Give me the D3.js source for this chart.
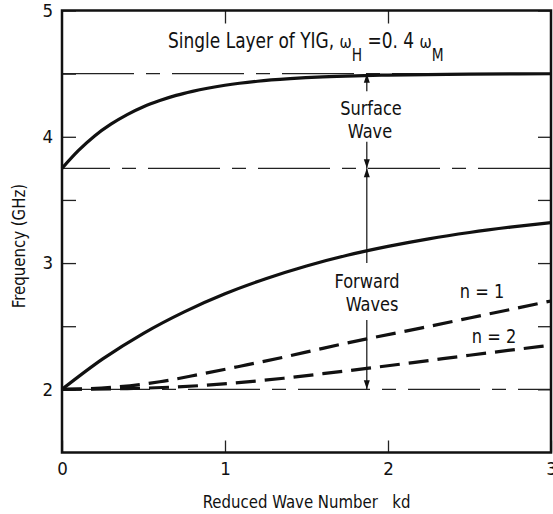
<!DOCTYPE html>
<html>
<head>
<meta charset="utf-8">
<script src="https://cdn.jsdelivr.net/npm/d3@7"></script>
<style>
  body { margin: 0; background: #fff; }
  text { font-family: "Liberation Sans Narrow", "DejaVu Sans Condensed", "Arial Narrow", sans-serif; fill: #111; }
</style>
</head>
<body>
<svg id="chart"></svg>
<script>
// surface wave branch
const kdSurface = [0, 0.1, 0.2, 0.3, 0.4, 0.5, 0.6, 0.7, 0.8, 1.0, 1.2, 1.4, 1.6, 1.8, 2.0, 2.5, 3.0]
const freqSurface = [3.75, 3.89, 4.007, 4.1, 4.176, 4.238, 4.287, 4.328, 4.36, 4.408, 4.44, 4.46, 4.474, 4.483, 4.489, 4.496, 4.499]
// forward waves: n = 0 solid, n = 1 and n = 2 dashed
const kdN0 = [0, 0.25, 0.5, 0.75, 1.0, 1.25, 1.5, 1.75, 2.0, 2.25, 2.5, 2.75, 3.0]
const freqN0 = [2.0, 2.241, 2.444, 2.614, 2.757, 2.876, 2.977, 3.062, 3.132, 3.192, 3.242, 3.284, 3.32]
const kdN1 = [0, 0.3, 0.6, 0.85, 1.1, 1.36, 1.6, 1.87, 2.2, 2.5, 3.0]
const freqN1 = [2.0, 2.015, 2.06, 2.12, 2.185, 2.255, 2.325, 2.4, 2.485, 2.565, 2.7]
const kdN2 = [0, 0.4, 0.85, 1.1, 1.36, 1.6, 1.87, 2.2, 2.5, 3.0]
const freqN2 = [2.0, 2.006, 2.03, 2.055, 2.088, 2.124, 2.166, 2.22, 2.27, 2.35]
// band limits
const levels = [4.5, 3.75, 2]
const xTicks = [0, 1, 2, 3]
const yTicks = [2, 2.5, 3, 3.5, 4, 4.5, 5]
const yLabels = [2, 3, 4, 5]
// band arrows at kd = 1.87 : [tip, tail]
const arrowKd = 1.87
const arrows = [[4.5, 4.36], [3.75, 3.96], [3.75, 3.0], [2.0, 2.55]]

const width = 553, height = 514
const svg = d3.select("#chart").attr("width", width).attr("height", height)

const x = d3.scaleLinear().domain([0, 3]).range([62, 551])
const y = d3.scaleLinear().domain([1.5, 5]).range([452.5, 10.5])

const fontSize = 18.5
const squeeze = 0.9   // narrow lettering of the original

// thin long-short dashed limit lines
const dashOffsets = [0, 24, 94]
svg.selectAll(".level").data(levels).join("line")
  .attr("x1", x(0)).attr("x2", x(3))
  .attr("y1", d => y(d)).attr("y2", d => y(d))
  .attr("stroke", "#222").attr("stroke-width", 1.1)
  .attr("stroke-dasharray", "72,12,14,12")
  .attr("stroke-dashoffset", (d, i) => dashOffsets[i])

// axes (inside ticks)
const gx = svg.append("g").attr("transform", `translate(0,${y(1.5)})`)
  .call(d3.axisBottom(x).tickValues(xTicks).tickSizeInner(-12).tickSizeOuter(0).tickPadding(9).tickFormat(d3.format("d")))
gx.select(".domain").remove()
gx.selectAll("text").attr("font-size", fontSize).style("font-family", null)

const gxTop = svg.append("g").attr("transform", `translate(0,${y(5)})`)
  .call(d3.axisTop(x).tickValues([1, 2]).tickSizeInner(-13).tickSizeOuter(0).tickFormat(""))
gxTop.select(".domain").remove()

const gy = svg.append("g").attr("transform", `translate(${x(0)},0)`)
  .call(d3.axisLeft(y).tickValues(yTicks).tickSizeInner(-14).tickSizeOuter(0).tickPadding(9)
    .tickFormat(d => yLabels.includes(d) ? d3.format("d")(d) : ""))
gy.select(".domain").remove()
gy.selectAll("text").attr("font-size", fontSize).style("font-family", null)

const gyRight = svg.append("g").attr("transform", `translate(${x(3)},0)`)
  .call(d3.axisRight(y).tickValues(yTicks).tickSizeInner(-13).tickSizeOuter(0).tickFormat(""))
gyRight.select(".domain").remove()

svg.selectAll(".tick line").attr("stroke", "#222").attr("stroke-width", 1.3)

// frame
svg.append("rect")
  .attr("x", x(0)).attr("y", y(5))
  .attr("width", x(3) - x(0)).attr("height", y(1.5) - y(5))
  .attr("fill", "none").attr("stroke", "#111").attr("stroke-width", 2.5)

// curves
const line = d3.line().x(d => x(d[0])).y(d => y(d[1])).curve(d3.curveMonotoneX)
const curves = [
  {data: d3.zip(kdSurface, freqSurface), dash: null},
  {data: d3.zip(kdN0, freqN0), dash: null},
  {data: d3.zip(kdN1, freqN1), dash: "20,9"},
  {data: d3.zip(kdN2, freqN2), dash: "20,9"}
]
svg.selectAll(".curve").data(curves).join("path")
  .attr("d", d => line(d.data))
  .attr("fill", "none").attr("stroke", "#111").attr("stroke-width", 3.2)
  .attr("stroke-dasharray", d => d.dash)

// arrows
const ax = x(arrowKd)
arrows.forEach(([tip, tail]) => {
  const yt = y(tip), ye = y(tail)
  const dir = ye < yt ? -1 : 1   // tail above tip -> head points down
  svg.append("line")
    .attr("x1", ax).attr("x2", ax).attr("y1", yt).attr("y2", ye)
    .attr("stroke", "#111").attr("stroke-width", 1.2)
  svg.append("path")
    .attr("d", `M${ax},${yt} L${ax - 3},${yt + dir * 9} L${ax + 3},${yt + dir * 9} Z`)
    .attr("fill", "#111")
})

// annotations
const note = (t, px, py, anchor = "middle", size = 20) => svg.append("text")
  .attr("transform", `translate(${px},${py}) scale(${squeeze},1)`)
  .attr("text-anchor", anchor).attr("font-size", size).text(t)
note("Surface", 371, 115)
note("Wave", 370, 138)
note("Forward", 367, 288)
note("Waves", 372, 311)
note("n = 1", 482, 298)
note("n = 2", 494, 343)

// title
const title = svg.append("text")
  .attr("transform", `translate(168,48) scale(${squeeze},1)`).attr("font-size", 21)
title.append("tspan").text("Single Layer of YIG, ")
title.append("tspan").text("ω").attr("font-size", 18)
title.append("tspan").text("H").attr("font-size", 17).attr("dy", 13)
title.append("tspan").text(" =0. 4 ").attr("dy", -13)
title.append("tspan").text("ω").attr("font-size", 18)
title.append("tspan").text("M").attr("font-size", 17).attr("dy", 13)

// axis titles
svg.append("text")
  .attr("transform", `translate(${(x(0) + x(3)) / 2},508) scale(${squeeze},1)`)
  .attr("text-anchor", "middle").attr("font-size", fontSize)
  .style("white-space", "pre")
  .text("Reduced Wave Number   kd")

svg.append("text")
  .attr("transform", `translate(25,246) rotate(-90) scale(${squeeze},1)`)
  .attr("text-anchor", "middle").attr("font-size", fontSize)
  .text("Frequency (GHz)")
</script>
</body>
</html>
